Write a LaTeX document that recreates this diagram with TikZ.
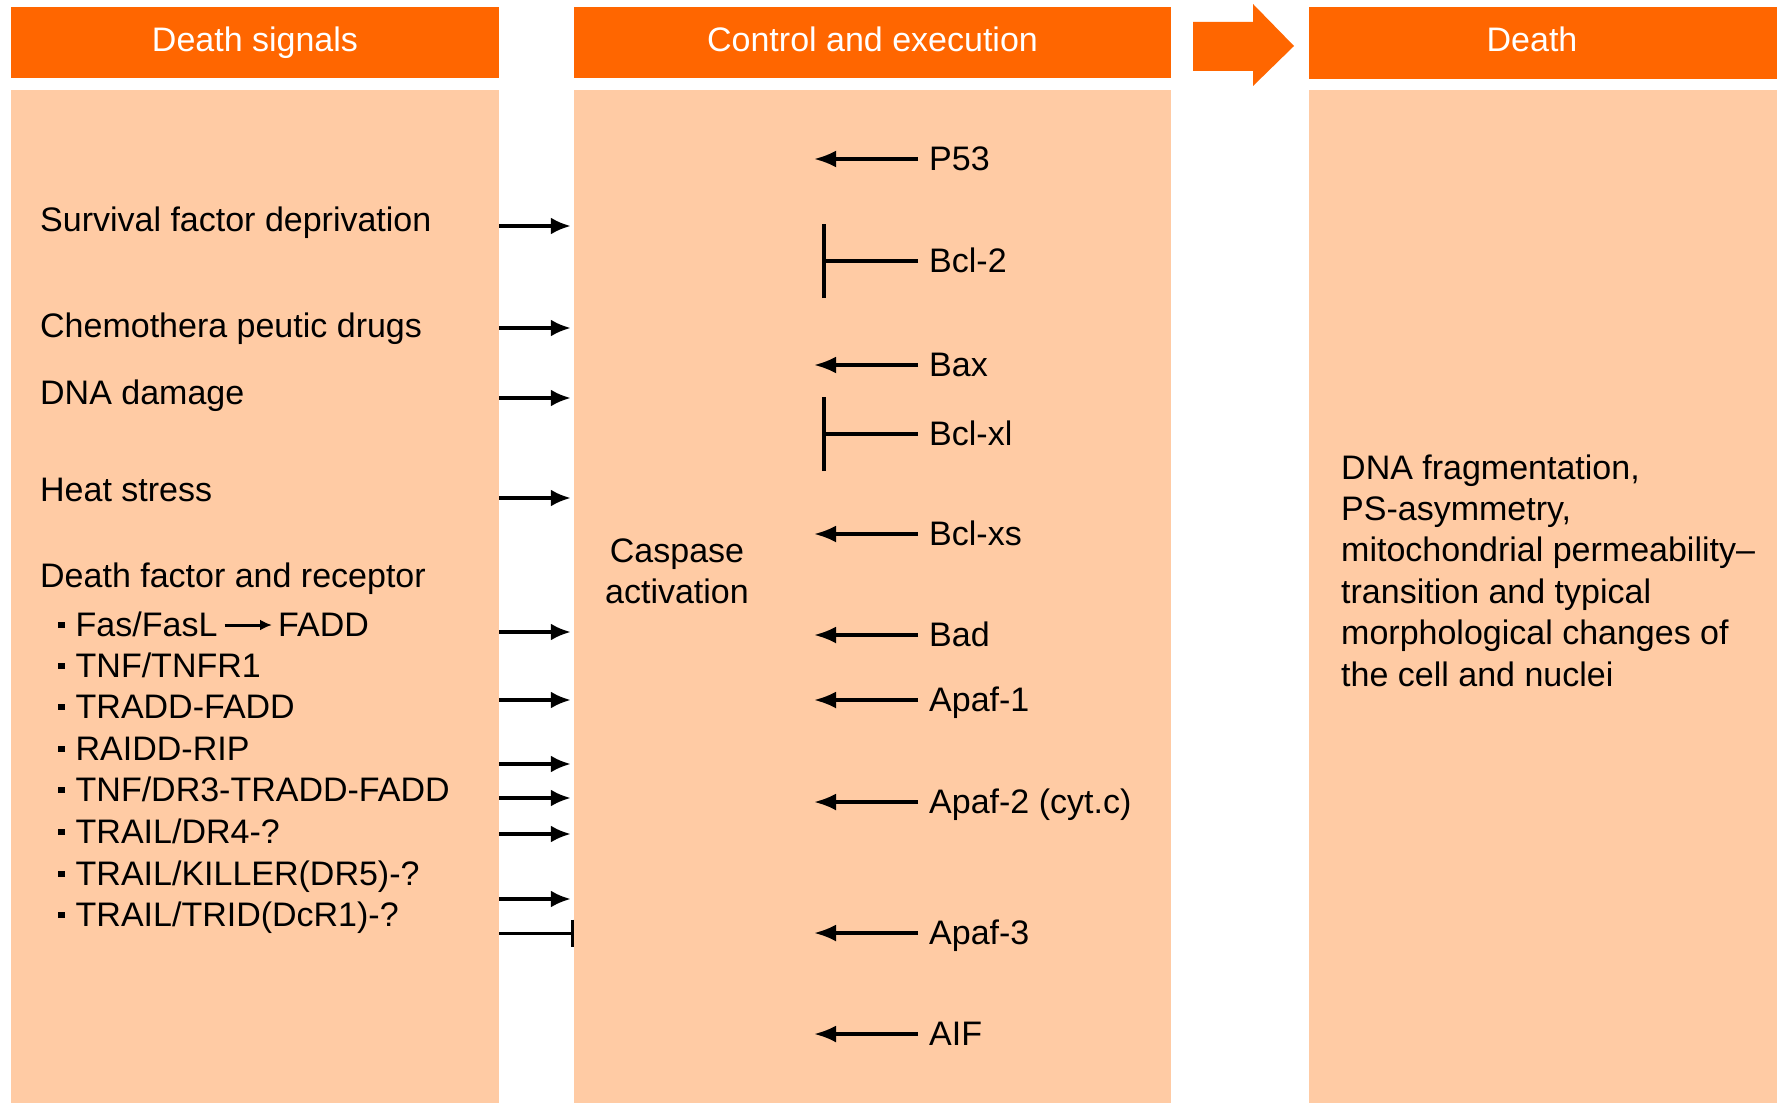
\documentclass[tikz,border=0pt]{standalone}
\usepackage{fontspec}
\setmainfont{Liberation Sans}
\usetikzlibrary{arrows.meta}
\definecolor{hdrc}{HTML}{FF6600}
\definecolor{bodyc}{HTML}{FFCBA4}
\begin{document}
\begin{tikzpicture}[x=1pt,y=-1pt,
  hdrbox/.style={fill=hdrc, draw=none, text=white, font=\fontsize{34}{40}\selectfont, inner sep=0pt, text height=23.6pt, text depth=5pt},
  bodybox/.style={fill=bodyc, draw=none, inner sep=0pt},
  lbl/.style={font=\fontsize{34}{40}\selectfont, anchor=west, inner ysep=0pt, inner xsep=0pt, text height=23.6pt, text depth=0pt},
  mlbl/.style={lbl, inner xsep=11pt},
  actarr/.style={line width=3.5pt, -{Latex[length=20pt,width=17pt]}},
  revarr/.style={line width=3.5pt, -{Latex[length=22pt,width=17pt]}},
  inharr/.style={line width=4pt, -{Bar[width=74pt]}},
  stoparr/.style={line width=3pt, -{Bar[width=27pt]}}
]
\useasboundingbox (0,0) rectangle (1779,1105);
\fill[white] (0,0) rectangle (1779,1105);

% headers
\node[hdrbox, minimum width=488pt, minimum height=71pt] (h1) at (255,42.5) {Death signals};
\node[hdrbox, minimum width=597pt, minimum height=71pt] (h2) at (872.5,42.5) {Control and execution};
\fill[hdrc] (1309,7) rectangle (1777,79);
\node[hdrbox] (h3) at (1532,42.5) {Death};
\fill[hdrc] (1193,22) -- (1253,22) -- (1253,4) -- (1294,46) -- (1253,86) -- (1253,71) -- (1193,71) -- cycle;

% bodies
\node[bodybox, minimum width=488pt, minimum height=1013pt] (b1) at (255,596.5) {};
\node[bodybox, minimum width=597pt, minimum height=1013pt] (b2) at (872.5,596.5) {};
\node[bodybox, minimum width=468pt, minimum height=1013pt] (b3) at (1543,596.5) {};

% left labels
\node[lbl] (l1) at (40,220) {Survival factor deprivation};
\node[lbl] (l2) at (40,326) {Chemothera peutic drugs};
\node[lbl] (l3) at (40,393) {DNA damage};
\node[lbl] (l4) at (40,490) {Heat stress};
\node[lbl] (l5) at (40,576) {Death factor and receptor};
\newcommand{\bx}{\rule[8.5pt]{6.5pt}{6.5pt}\hspace{11pt}}
\node[lbl] (fas) at (58,625) {\bx Fas/FasL};
\node[lbl] (fadd) at (278,625) {FADD};
\draw[line width=3pt, -{Latex[length=12pt,width=11pt]}] (fas.east) ++(7,0) coordinate (fs) (fs) -- ([xshift=-6pt]fadd.west);
\node[lbl] (t2) at (58,666) {\bx TNF/TNFR1};
\node[lbl] (t3) at (58,707) {\bx TRADD-FADD};
\node[lbl] (t4) at (58,749) {\bx RAIDD-RIP};
\node[lbl] (t5) at (58,790) {\bx TNF/DR3-TRADD-FADD};
\node[lbl] (t6) at (58,832) {\bx TRAIL/DR4-?};
\node[lbl] (t7) at (58,874) {\bx TRAIL/KILLER(DR5)-?};
\node[lbl] (t8) at (58,915) {\bx TRAIL/TRID(DcR1)-?};

% left arrows
\foreach \yy in {226,328,398,498,632,700,764,798,834,899}
  \draw[actarr] (b1.east |- 0,\yy) -- ([xshift=-3pt]b2.west |- 0,\yy);
\draw[stoparr] (b1.east |- 0,933) -- (b2.west |- 0,933);

% middle
\node[font=\fontsize{34}{41}\selectfont, align=center, inner sep=0pt] (casp) at (677,571) {Caspase\\activation};
\coordinate (tipx) at (814,0);
\coordinate (barx) at (822,0);
\node[mlbl] (p53) at (918,159) {P53};
\node[mlbl] (bcl2) at (918,261) {Bcl-2};
\node[mlbl] (bax) at (918,365) {Bax};
\node[mlbl] (bclxl) at (918,434) {Bcl-xl};
\node[mlbl] (bclxs) at (918,534) {Bcl-xs};
\node[mlbl] (bad) at (918,635) {Bad};
\node[mlbl] (apaf1) at (918,700) {Apaf-1};
\node[mlbl] (apaf2) at (918,802) {Apaf-2 (cyt.c)};
\node[mlbl] (apaf3) at (918,933) {Apaf-3};
\node[mlbl] (aif) at (918,1034) {AIF};
\foreach \n in {p53,bax,bclxs,bad,apaf1,apaf2,apaf3,aif}
  \draw[revarr] (\n.west) -- (\n.west -| tipx);
\foreach \n in {bcl2,bclxl}
  \draw[inharr] (\n.west) -- (\n.west -| barx);

% right
\node[font=\fontsize{34}{41.4}\selectfont, align=left, anchor=west, inner sep=0pt] (res) at (1341,570.5) {DNA fragmentation,\\PS-asymmetry,\\mitochondrial permeability–\\transition and typical\\morphological changes of\\the cell and nuclei};
\end{tikzpicture}
\end{document}
